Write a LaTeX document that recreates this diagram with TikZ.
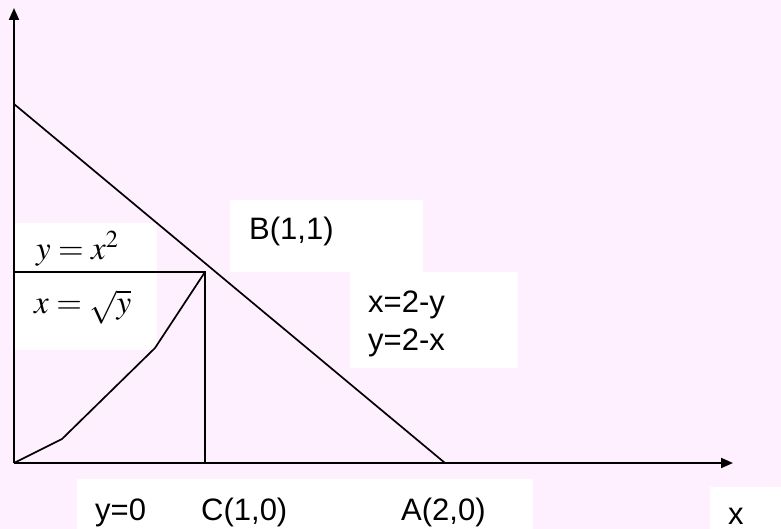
\documentclass[tikz,border=0pt]{standalone}
\usepackage{mathptmx}
\usepackage[no-math]{fontspec}
\setmainfont{Liberation Sans}
\usetikzlibrary{arrows.meta}
\definecolor{bgpink}{RGB}{255,240,255}
\tikzset{
    axis/.style={line width=2pt, -{Triangle[length=12pt,width=10pt]}},
    graphline/.style={line width=1.7pt, line join=miter},
    patch/.style={fill=white, draw=none},
    lbl/.style={inner sep=0pt, anchor=base west, font=\fontsize{31}{38}\selectfont},
    mathlbl/.style={inner sep=0pt, anchor=base west, font=\fontsize{33}{38}\selectfont}
}

\begin{document}
\begin{tikzpicture}[x=1pt, y=-1pt]
    \fill[bgpink] (0,0) rectangle (781,529);
    \useasboundingbox (0,0) rectangle (781,529);

    % white patches behind the labels
    \fill[patch] (15,223) rectangle (157,350);
    \fill[patch] (230,200) rectangle (423,272);
    \fill[patch] (350,272) rectangle (518,368);
    \fill[patch] (77,479) rectangle (533,529);
    \fill[patch] (710,487) rectangle (781,529);

    % points
    \coordinate (O) at (14,463);
    \coordinate (ytip) at (14,8);
    \coordinate (xtip) at (733,463);
    \coordinate (P) at (14,104);
    \coordinate (A) at (445,463);
    \coordinate (B) at (205,272);
    \coordinate (C) at (205,463);
    \coordinate (Yb) at (14,272);
    \coordinate (q1) at (62,439);
    \coordinate (q2) at (155,348);

    \draw[axis] (O) -- (ytip);
    \draw[axis] (O) -- (xtip);
    \draw[graphline] (P) -- (A);
    \draw[graphline] (Yb) -- (B) -- (C);
    \draw[graphline] (O) -- (q1) -- (q2) -- (B);

    % labels
    \node (parab) [mathlbl] at (36,259) {$y = x^2$};
    \node (root) [mathlbl] at (34,313) {$x = \sqrt{y}$};
    \node (lblB) [lbl] at (249,240) {B(1,1)};
    \node (line) [lbl, align=left] at (368,350) {x=2-y\\y=2-x};
    \node (lbly) [lbl] at (95,520) {y=0};
    \node (lblC) [lbl] at (201,520) {C(1,0)};
    \node (lblA) [lbl] at (401,520) {A(2,0)};
    \node (lblx) [lbl] at (728,524) {x};
\end{tikzpicture}
\end{document}
